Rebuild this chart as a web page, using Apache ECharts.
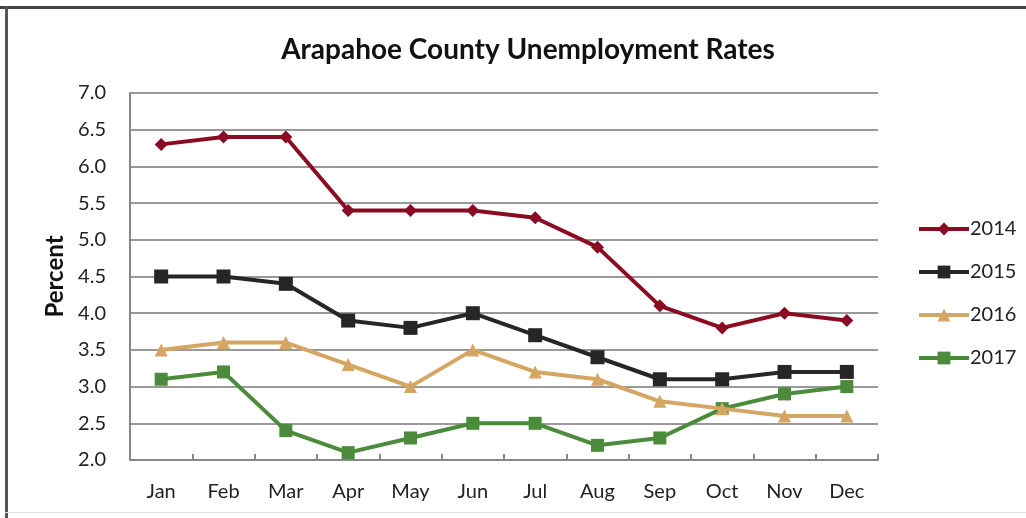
<!DOCTYPE html>
<html><head><meta charset="utf-8">
<script src="https://cdn.jsdelivr.net/npm/echarts@6/dist/echarts.min.js"></script>
<style>html,body{margin:0;padding:0;background:#fff}#c{width:1026px;height:518px}</style>
</head><body><div id="c"></div>
<script>
const months = ['Jan','Feb','Mar','Apr','May','Jun','Jul','Aug','Sep','Oct','Nov','Dec'];
const s2014 = [6.3,6.4,6.4,5.4,5.4,5.4,5.3,4.9,4.1,3.8,4.0,3.9];
const s2015 = [4.5,4.5,4.4,3.9,3.8,4.0,3.7,3.4,3.1,3.1,3.2,3.2];
const s2016 = [3.5,3.6,3.6,3.3,3.0,3.5,3.2,3.1,2.8,2.7,2.6,2.6];
const s2017 = [3.1,3.2,2.4,2.1,2.3,2.5,2.5,2.2,2.3,2.7,2.9,3.0];
const seriesNames = ['2014','2015','2016','2017'];
const colors = ['#8a0c22','#262626','#d4a563','#4b8b3b'];
const symbols = ['diamond','rect','triangle','rect'];
const sizes = [13,14,13,13];
const data = [s2014,s2015,s2016,s2017];
const FONT = 'Lato, "Open Sans", sans-serif';

const chart = echarts.init(document.getElementById('c'), null, {renderer:'canvas'});
chart.setOption({
  animation:false,
  backgroundColor:'#fff',
  color: colors,
  title:{text:'Arapahoe County Unemployment Rates', left:523, top:31, textAlign:'center',
    textStyle:{fontFamily:FONT, fontSize:28, fontWeight:'bold', color:'#111'}},
  grid:{left:130, right:148, top:93, bottom:58},
  legend:{orient:'vertical', left:912, top:214, itemGap:23, itemWidth:50, itemHeight:16,
    data: seriesNames,
    lineStyle:{width:4},
    textStyle:{fontFamily:FONT, fontSize:20, color:'#222', padding:[0,0,0,-4]}},
  xAxis:{type:'category', data:months, boundaryGap:true,
    axisLine:{lineStyle:{color:'#888', width:2}},
    axisTick:{show:true, inside:true, length:6, lineStyle:{color:'#888', width:2}},
    axisLabel:{fontFamily:FONT, fontSize:20, color:'#222', margin:22}},
  yAxis:{type:'value', min:2, max:7, interval:0.5, name:'Percent', nameLocation:'middle', nameGap:60,
    nameTextStyle:{fontFamily:FONT, fontSize:24, fontWeight:'bold', color:'#111'},
    axisLine:{show:true, lineStyle:{color:'#888', width:2}},
    axisTick:{show:false},
    splitLine:{lineStyle:{color:'#999', width:2}},
    axisLabel:{fontFamily:FONT, fontSize:20, color:'#222', margin:24, formatter:v=>v.toFixed(1)}},
  series: data.map((d,i)=>({
    name: seriesNames[i], type:'line', data:d, symbol:symbols[i], symbolSize:sizes[i],
    showSymbol:true,
    lineStyle:{width:4, color:colors[i]}, itemStyle:{color:colors[i]}, z: 10-i
  })),
  graphic:[
    {type:'rect', shape:{x:0,y:6,width:1026,height:3}, style:{fill:'#444'}},
    {type:'rect', shape:{x:5,y:6,width:3,height:512}, style:{fill:'#555'}},
    {type:'rect', shape:{x:5,y:512,width:1021,height:1}, style:{fill:'#ddd'}}
  ]
});
</script></body></html>
